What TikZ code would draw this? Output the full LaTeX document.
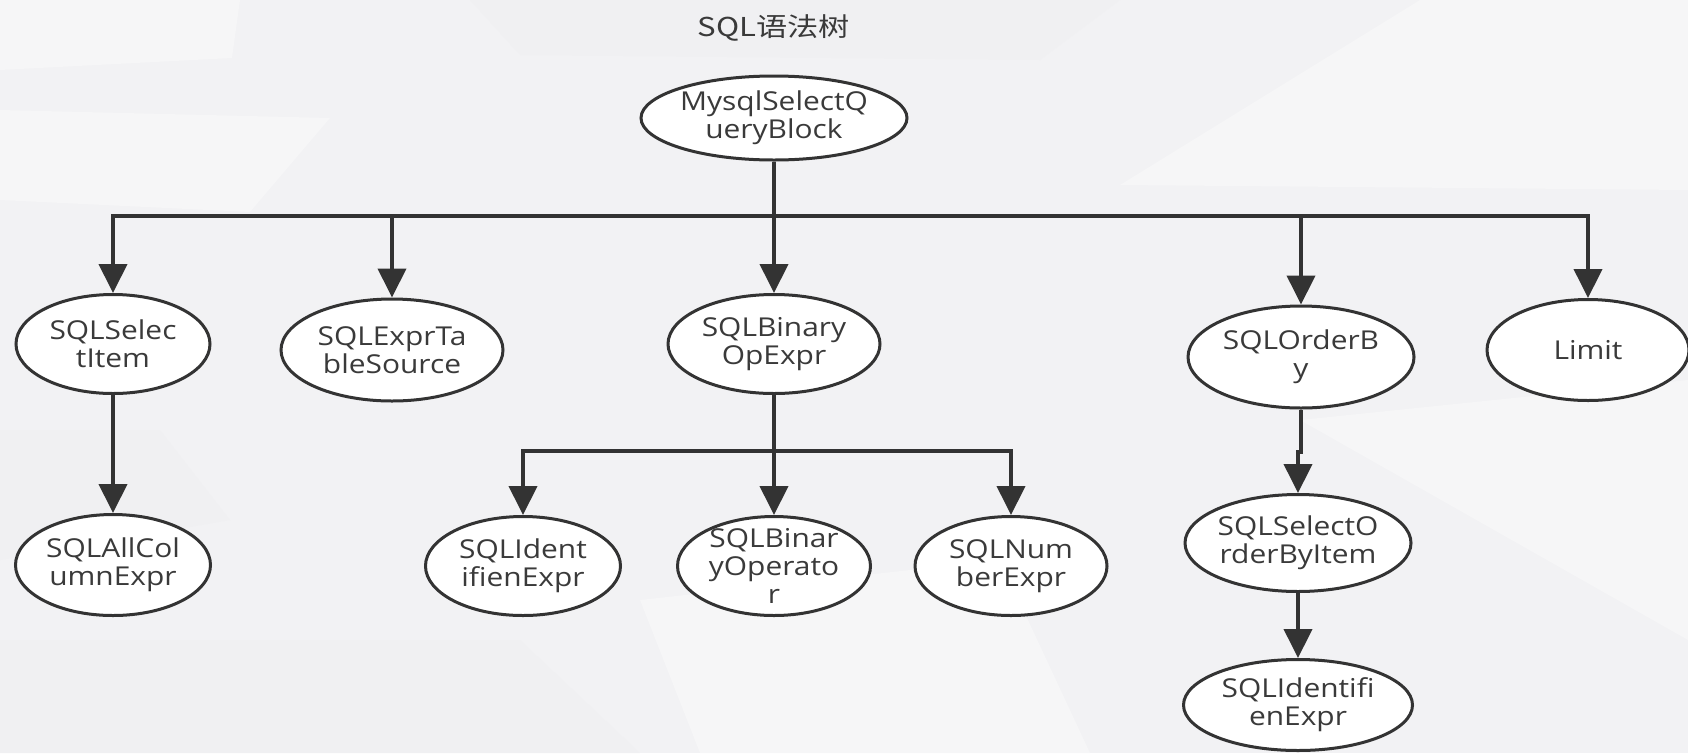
\documentclass[tikz,border=0pt]{standalone}
\usepackage{fontspec}
\usetikzlibrary{shapes.geometric,arrows.meta}

\newfontfamily\nodefont[FakeStretch=1.15]{Open Sans}
\newfontfamily\headfont[FakeStretch=1.2]{Noto Sans CJK SC}

\definecolor{ink}{HTML}{333333}
\definecolor{txt}{HTML}{3A3A3A}
\definecolor{bgbase}{HTML}{F2F2F4}
\definecolor{bglight}{HTML}{F6F6F7}
\definecolor{bgdark}{HTML}{F0F0F2}

\begin{document}
\begin{tikzpicture}[x=1pt,y=-1pt,
  tree/.style={draw=ink, line width=3pt, fill=white, ellipse, inner sep=0pt},
  lbl/.style={font=\nodefont\fontsize{26}{28}\selectfont, text=txt, align=center, inner sep=0pt},
  conn/.style={draw=ink, line width=4pt, line join=miter,
    -{Triangle[width=28pt,length=29pt]}}
]
% canvas and soft low-poly backdrop
\useasboundingbox (0,0) rectangle (1688,753);
\fill[bgbase] (0,0) rectangle (1688,753);
\fill[bglight] (0,0) -- (240,0) -- (232,58) -- (0,70) -- cycle;
\fill[bglight] (0,110) -- (330,118) -- (250,212) -- (0,200) -- cycle;
\fill[bgdark] (470,0) -- (1120,0) -- (1040,60) -- (520,55) -- cycle;
\fill[bglight] (1120,185) -- (1420,0) -- (1688,0) -- (1688,190) -- cycle;
\fill[bglight] (1300,420) -- (1688,380) -- (1688,640) -- cycle;
\fill[bgdark] (0,640) -- (520,640) -- (640,753) -- (0,753) -- cycle;
\fill[bglight] (640,600) -- (1000,560) -- (1090,753) -- (700,753) -- cycle;
\fill[bgdark] (0,430) -- (160,430) -- (230,520) -- (0,560) -- cycle;

% title
\node[font=\headfont\fontsize{26}{30}\selectfont, text=txt] (title) at (774,28) {SQL语法树};

% tree nodes: outlines
\node[tree, minimum width=266pt, minimum height=84pt]  (root)    at (774,118) {};
\node[tree, minimum width=194pt, minimum height=99pt]  (selitem) at (113,344) {};
\node[tree, minimum width=222pt, minimum height=102pt] (exprts)  at (392,350) {};
\node[tree, minimum width=212pt, minimum height=99pt]  (binop)   at (774,344) {};
\node[tree, minimum width=226pt, minimum height=102pt] (orderby) at (1301,357) {};
\node[tree, minimum width=202pt, minimum height=101pt] (limit)   at (1588,350) {};
\node[tree, minimum width=195pt, minimum height=101pt] (allcol)  at (113,565) {};
\node[tree, minimum width=195pt, minimum height=99pt]  (ident)   at (523,566) {};
\node[tree, minimum width=193pt, minimum height=99pt]  (binoper) at (774,566) {};
\node[tree, minimum width=192pt, minimum height=99pt]  (numexpr) at (1011,566) {};
\node[tree, minimum width=226pt, minimum height=97pt]  (sobi)    at (1298,543) {};
\node[tree, minimum width=229pt, minimum height=91pt]  (identb)  at (1298,705) {};

% tree nodes: labels
\node[lbl] (rootT)    at (root)    {MysqlSelectQ\\ueryBlock};
\node[lbl] (selitemT) at (selitem) {SQLSelec\\tItem};
\node[lbl] (exprtsT)  at (exprts)  {SQLExprTa\\bleSource};
\node[lbl] (binopT)   at (binop)   {SQLBinary\\OpExpr};
\node[lbl] (orderbyT) at (orderby) {SQLOrderB\\y};
\node[lbl] (limitT)   at (limit)   {Limit};
\node[lbl] (allcolT)  at (allcol)  {SQLAllCol\\umnExpr};
\node[lbl] (identT)   at (ident)   {SQLIdent\\ifienExpr};
\node[lbl] (binoperT) at (binoper) {SQLBinar\\yOperato\\r};
\node[lbl] (numexprT) at (numexpr) {SQLNum\\berExpr};
\node[lbl] (sobiT)    at (sobi)    {SQLSelectO\\rderByItem};
\node[lbl] (identbT)  at (identb)  {SQLIdentifi\\enExpr};

% bus levels
\coordinate (bus)    at (0,216);
\coordinate (subbus) at (0,451);
\coordinate (jog)    at (0,452);

% connectors from the root
\foreach \c in {selitem,exprts,binop,orderby,limit}
  \draw[conn] (root.south) -- (root.south |- bus) -| (\c.north);

% second level
\draw[conn] (selitem.south) -- (allcol.north);
\foreach \c in {ident,binoper,numexpr}
  \draw[conn] (binop.south) -- (binop.south |- subbus) -| (\c.north);
\draw[conn] (orderby.south) -- (orderby.south |- jog) -| (sobi.north);
\draw[conn] (sobi.south) -- (identb.north);
\end{tikzpicture}
\end{document}
